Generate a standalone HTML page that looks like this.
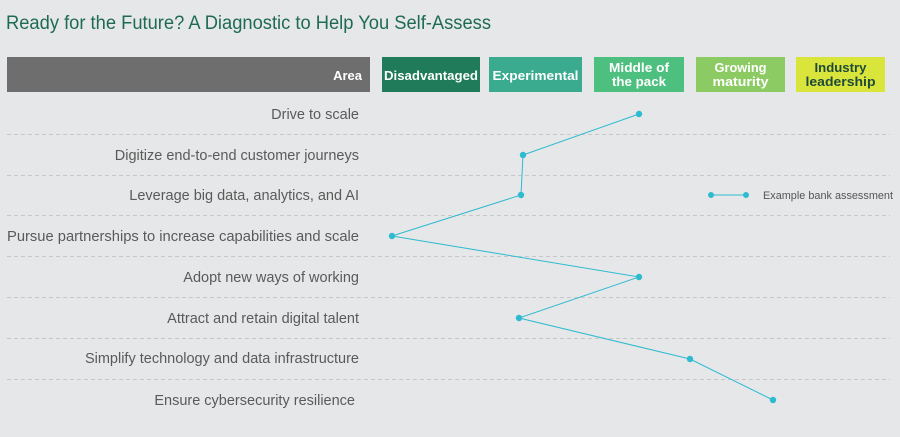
<!DOCTYPE html>
<html><head><meta charset="utf-8"><style>
html,body{margin:0;padding:0;background:#e6e7e8;}
svg{display:block;font-family:"Liberation Sans",sans-serif;}
</style></head><body>
<svg width="900" height="437" viewBox="0 0 900 437">
<rect width="900" height="437" fill="#e6e7e8"/>
<text x="6" y="29" font-size="19" fill="#1f6b52" textLength="485" lengthAdjust="spacingAndGlyphs">Ready for the Future? A Diagnostic to Help You Self-Assess</text>
<rect x="7" y="57" width="363" height="35" fill="#6e6e6e"/>
<text x="362" y="80" font-size="13" font-weight="bold" fill="#fff" text-anchor="end">Area</text>
<rect x="382" y="57" width="98" height="35" fill="#1f7b5a"/>
<text x="431" y="80" font-size="13" font-weight="bold" fill="#fff" text-anchor="middle" textLength="94" lengthAdjust="spacingAndGlyphs">Disadvantaged</text>
<rect x="489" y="57" width="93" height="35" fill="#3aab8f"/>
<text x="535.5" y="80" font-size="13" font-weight="bold" fill="#fff" text-anchor="middle" textLength="86" lengthAdjust="spacingAndGlyphs">Experimental</text>
<rect x="594" y="57" width="90" height="35" fill="#4dbf7e"/>
<text x="639" y="72" font-size="13" font-weight="bold" fill="#fff" text-anchor="middle" textLength="60" lengthAdjust="spacingAndGlyphs">Middle of</text>
<text x="639" y="86" font-size="13" font-weight="bold" fill="#fff" text-anchor="middle" textLength="54" lengthAdjust="spacingAndGlyphs">the pack</text>
<rect x="696" y="57" width="89" height="35" fill="#8ccb63"/>
<text x="740.5" y="72" font-size="13" font-weight="bold" fill="#fff" text-anchor="middle" textLength="52" lengthAdjust="spacingAndGlyphs">Growing</text>
<text x="740.5" y="86" font-size="13" font-weight="bold" fill="#fff" text-anchor="middle" textLength="56" lengthAdjust="spacingAndGlyphs">maturity</text>
<rect x="796" y="57" width="89" height="35" fill="#d9e53b"/>
<text x="840.5" y="72" font-size="13" font-weight="bold" fill="#1f4a3a" text-anchor="middle" textLength="52" lengthAdjust="spacingAndGlyphs">Industry</text>
<text x="840.5" y="86" font-size="13" font-weight="bold" fill="#1f4a3a" text-anchor="middle" textLength="70" lengthAdjust="spacingAndGlyphs">leadership</text>
<g stroke="#c6c7c9" stroke-width="1" stroke-dasharray="4,3">
<line x1="7" y1="134.5" x2="890" y2="134.5"/>
<line x1="7" y1="175.5" x2="890" y2="175.5"/>
<line x1="7" y1="215.5" x2="890" y2="215.5"/>
<line x1="7" y1="256.5" x2="890" y2="256.5"/>
<line x1="7" y1="297.5" x2="890" y2="297.5"/>
<line x1="7" y1="338.5" x2="890" y2="338.5"/>
<line x1="7" y1="379.5" x2="890" y2="379.5"/>
</g>
<g font-size="14.5" fill="#5a5a5a" text-anchor="end">
<text x="359" y="119">Drive to scale</text>
<text x="359" y="160">Digitize end-to-end customer journeys</text>
<text x="359" y="200">Leverage big data, analytics, and AI</text>
<text x="359" y="241" textLength="352" lengthAdjust="spacingAndGlyphs">Pursue partnerships to increase capabilities and scale</text>
<text x="359" y="282">Adopt new ways of working</text>
<text x="359" y="323">Attract and retain digital talent</text>
<text x="359" y="363">Simplify technology and data infrastructure</text>
<text x="355" y="405">Ensure cybersecurity resilience</text>
</g>
<polyline points="639,114 523,155 521,195 392,236 639,277 519,318 690,359 773,400" fill="none" stroke="#2ebbd0" stroke-width="1"/>
<g fill="#2ebbd0">
<circle cx="639" cy="114" r="3.2"/><circle cx="523" cy="155" r="3.2"/><circle cx="521" cy="195" r="3.2"/><circle cx="392" cy="236" r="3.2"/><circle cx="639" cy="277" r="3.2"/><circle cx="519" cy="318" r="3.2"/><circle cx="690" cy="359" r="3.2"/><circle cx="773" cy="400" r="3.2"/>
<circle cx="711" cy="195" r="3"/><circle cx="746" cy="195" r="3"/>
</g>
<line x1="711" y1="195" x2="746" y2="195" stroke="#2ebbd0" stroke-width="1"/>
<text x="763" y="199" font-size="11" fill="#555" textLength="130" lengthAdjust="spacingAndGlyphs">Example bank assessment</text>
</svg>
</body></html>
